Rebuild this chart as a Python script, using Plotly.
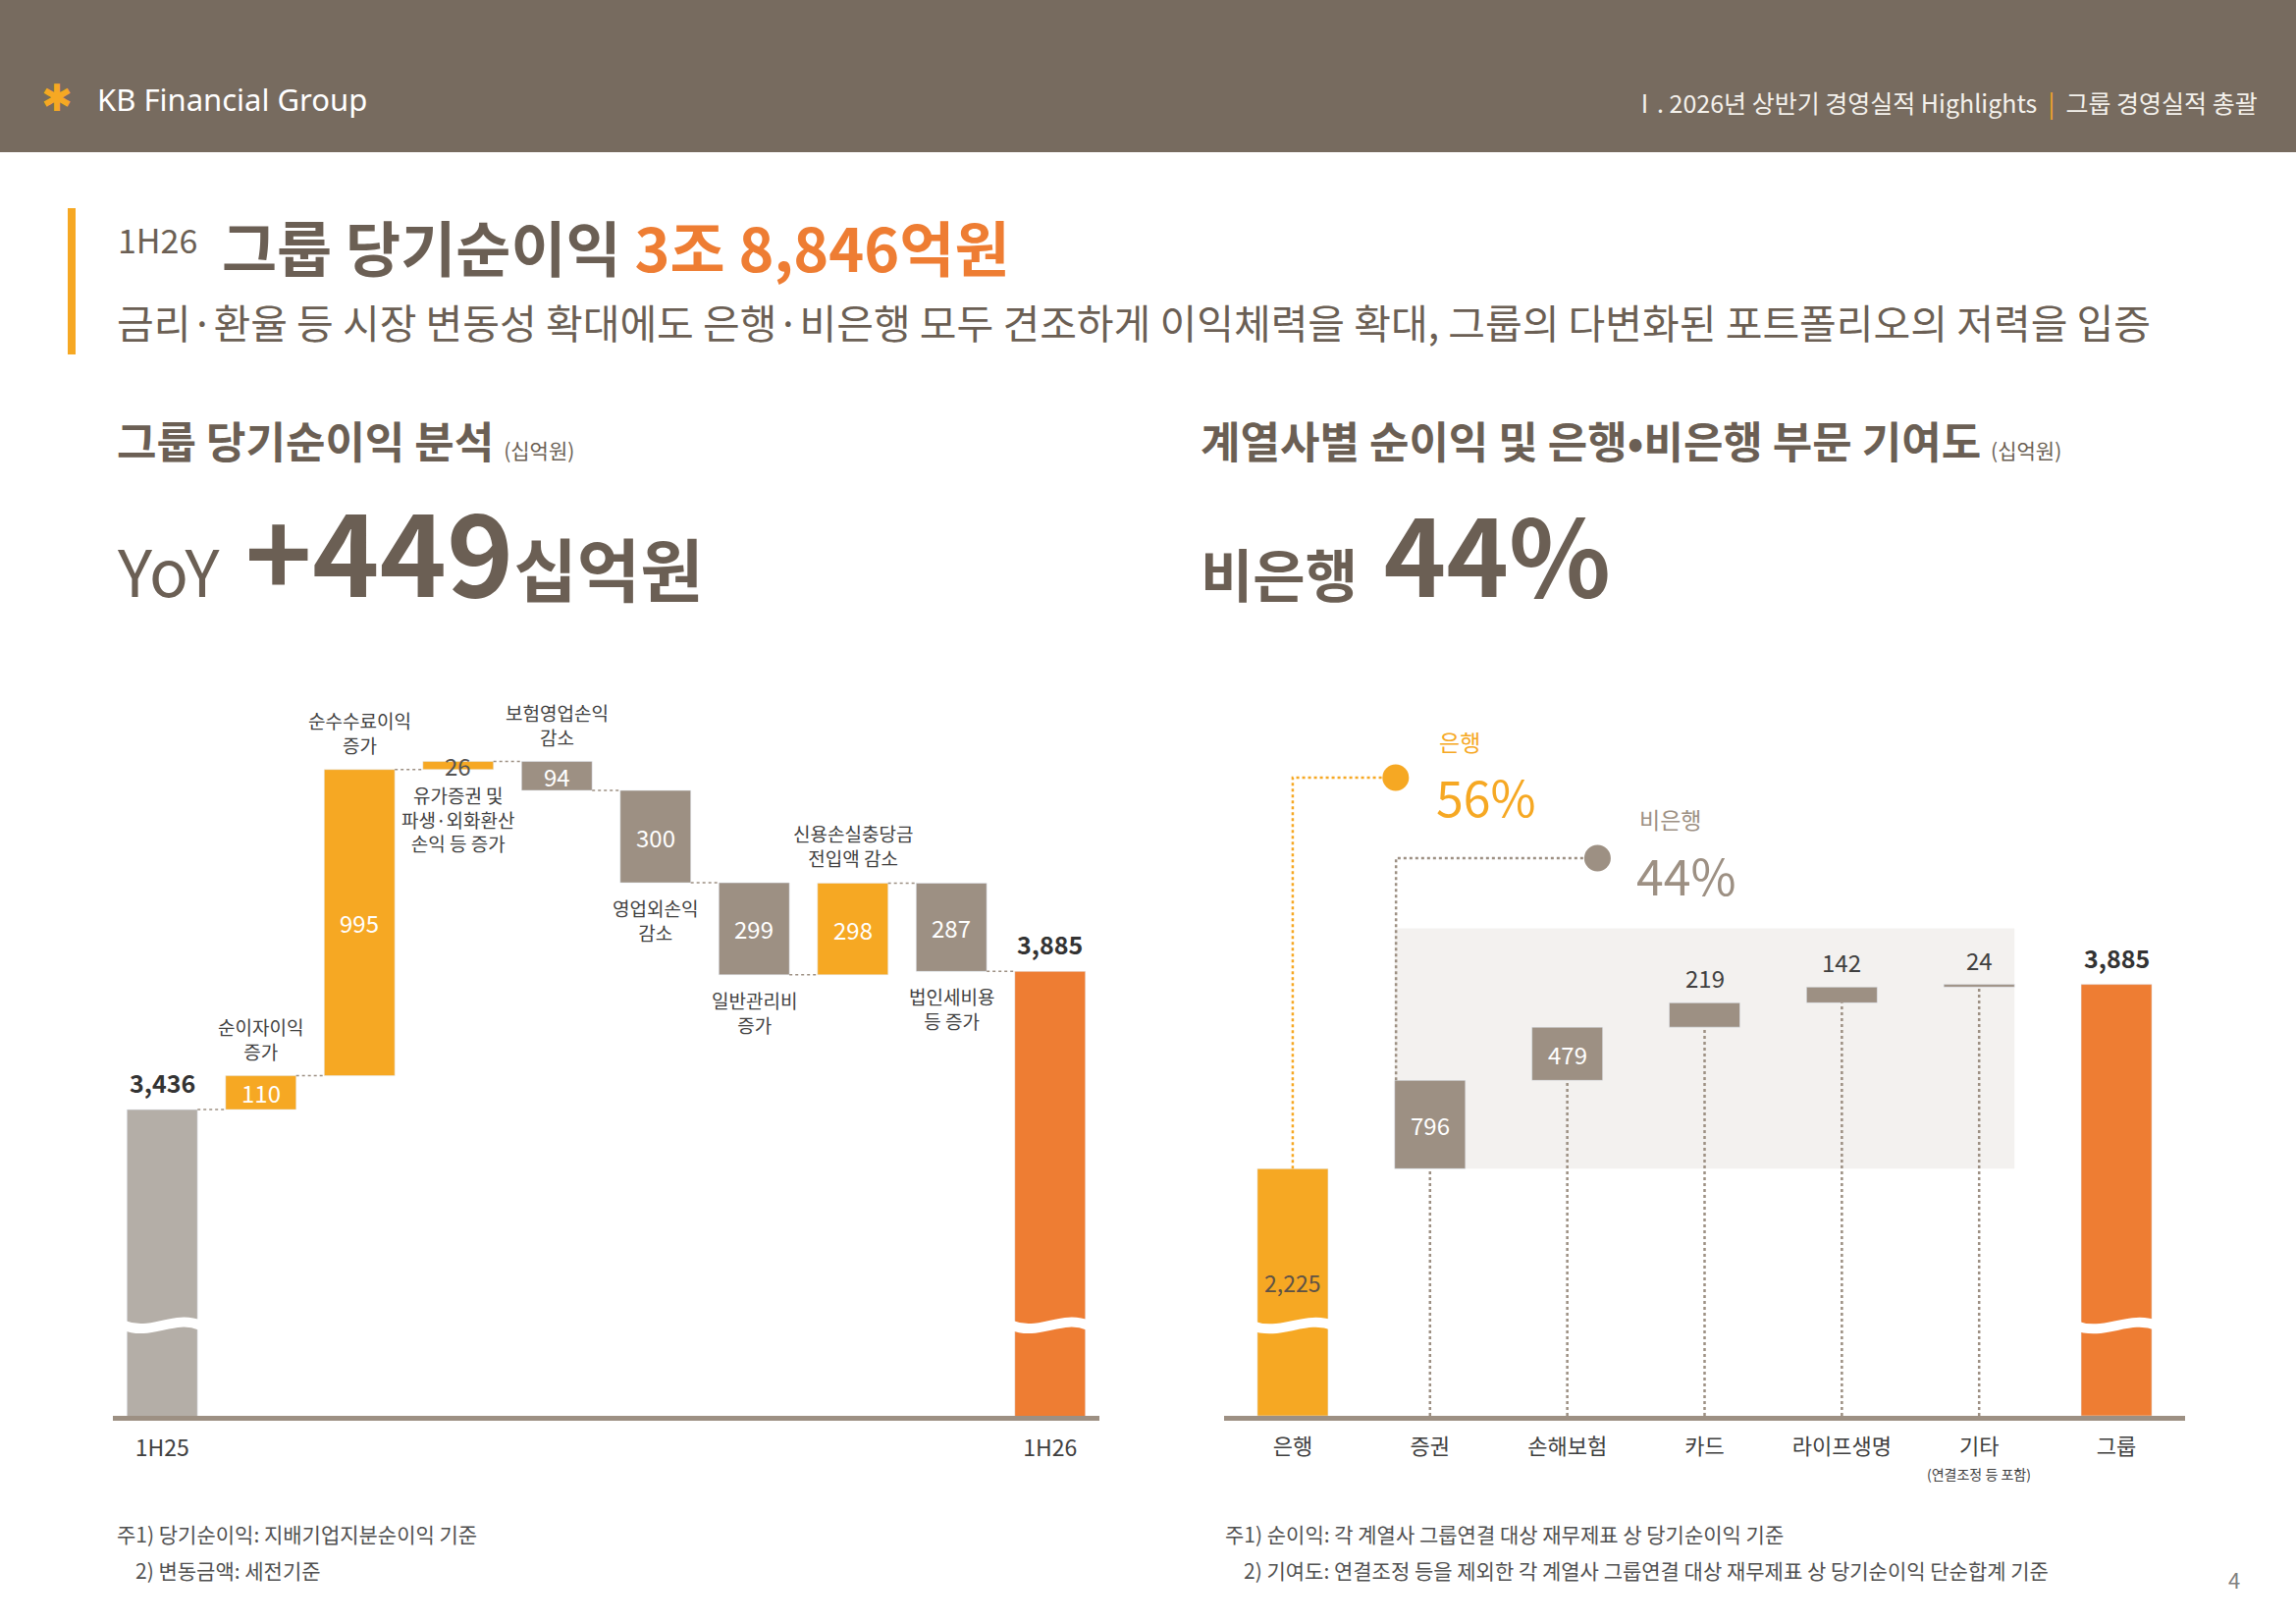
import numpy as np
import plotly.graph_objects as go

W, H = 2339, 1654

# ---- data (십억원) ----
left_start_label = "1H25"
left_end_label = "1H26"
left_start = 3436
left_end = 3885
left_changes = [110, 995, 26, -94, -300, -299, 298, -287]
left_desc = [
    "순이자이익<br>증가",
    "순수수료이익<br>증가",
    "유가증권 및<br>파생·외화환산<br>손익 등 증가",
    "보험영업손익<br>감소",
    "영업외손익<br>감소",
    "일반관리비<br>증가",
    "신용손실충당금<br>전입액 감소",
    "법인세비용<br>등 증가",
]

right_cats = ["은행", "증권", "손해보험", "카드", "라이프생명", "기타", "그룹"]
bank_profit = 2225
nonbank_profit = [796, 479, 219, 142, 24]
group_profit = 3885
bank_share = 56
nonbank_share = 44
yoy_change = 449

# ---- layout / style ----
desc_side = ["above", "above", "below", "above", "below", "below", "above", "below"]

YELLOW = "#F6A823"
ORANGE = "#EE7D33"
TAUPE = "#9D9083"
LIGHT = "#B4AEA7"
TEXT = "#6B5F54"
DARK = "#333333"
HEADER = "#776B5F"
FONT = "Noto Sans CJK KR"

LW = 0.715   # left bar width
RW = 0.515   # right bar width
LEFT_RANGE = [2441, 4757]
RIGHT_RANGE = [0, 6419]
LEFT_BREAK = 2735
RIGHT_BREAK = 813
ORANGE_LVL = 5747
GRAY_LVL = 5022
RECT_TOP = 4390


def px(x):
    return x / W


def py(y):
    return 1 - y / H


fig = go.Figure()

# ---- left waterfall ----
n = len(left_changes)
levels = left_start + np.cumsum(left_changes)
bases = np.concatenate([[left_start], levels[:-1]])
mid_x = np.arange(1, n + 1)

fig.add_trace(go.Bar(x=[0], y=[left_start], base=[0], width=LW,
                     marker_color=LIGHT, xaxis="x", yaxis="y"))
fig.add_trace(go.Bar(x=mid_x, y=left_changes, base=bases, width=LW,
                     marker_color=[YELLOW if v > 0 else TAUPE for v in left_changes],
                     xaxis="x", yaxis="y"))
fig.add_trace(go.Bar(x=[n + 1], y=[left_end], base=[0], width=LW,
                     marker_color=ORANGE, xaxis="x", yaxis="y"))

# connectors
all_levels = [left_start] + list(levels)
cx, cy = [], []
for i, lv in enumerate(all_levels):
    cx += [i + LW / 2, i + 1 - LW / 2, None]
    cy += [lv, lv, None]
fig.add_trace(go.Scatter(x=cx, y=cy, mode="lines", xaxis="x", yaxis="y",
                         line=dict(color=TAUPE, width=1.5, dash="dot")))

# ---- right stacked ----
nb_base = bank_profit + np.concatenate([[0], np.cumsum(nonbank_profit)[:-1]])
nb_x = np.arange(1, len(nonbank_profit) + 1)

fig.add_trace(go.Bar(x=[0], y=[bank_profit], base=[0], width=RW,
                     marker_color=YELLOW, xaxis="x2", yaxis="y2"))
fig.add_trace(go.Bar(x=nb_x, y=nonbank_profit, base=nb_base, width=RW,
                     marker_color=TAUPE, xaxis="x2", yaxis="y2"))
fig.add_trace(go.Bar(x=[len(right_cats) - 1], y=[group_profit], base=[0], width=RW,
                     marker_color=ORANGE, xaxis="x2", yaxis="y2"))

# dotted drops under the non-bank boxes
dx, dy = [], []
for xi, b in zip(nb_x, nb_base):
    dx += [xi, xi, None]
    dy += [0, b, None]
fig.add_trace(go.Scatter(x=dx, y=dy, mode="lines", xaxis="x2", yaxis="y2",
                         line=dict(color=TAUPE, width=2.5, dash="dot")))

# share connectors
edge = 1 - RW / 2 + 0.01
fig.add_trace(go.Scatter(x=[0, 0, 0.75], y=[bank_profit, ORANGE_LVL, ORANGE_LVL],
                         mode="lines", xaxis="x2", yaxis="y2",
                         line=dict(color=YELLOW, width=2.5, dash="dot")))
fig.add_trace(go.Scatter(x=[edge, edge, 2.22],
                         y=[bank_profit + nonbank_profit[0], GRAY_LVL, GRAY_LVL],
                         mode="lines", xaxis="x2", yaxis="y2",
                         line=dict(color=TAUPE, width=2.5, dash="dot")))
fig.add_trace(go.Scatter(x=[0.75], y=[ORANGE_LVL], mode="markers", xaxis="x2", yaxis="y2",
                         marker=dict(size=27, color=YELLOW)))
fig.add_trace(go.Scatter(x=[2.22], y=[GRAY_LVL], mode="markers", xaxis="x2", yaxis="y2",
                         marker=dict(size=27, color=TAUPE)))

shapes = []
# header band
shapes.append(dict(type="rect", xref="paper", yref="paper", x0=0, x1=1,
                   y0=py(155), y1=1, fillcolor=HEADER, line_width=0, layer="below"))
# title accent
shapes.append(dict(type="rect", xref="paper", yref="paper", x0=px(69), x1=px(77),
                   y0=py(361), y1=py(212), fillcolor=YELLOW, line_width=0))
# non-bank shaded area
shapes.append(dict(type="rect", xref="x2", yref="y2", x0=1 - RW / 2, x1=5 + RW / 2,
                   y0=bank_profit, y1=RECT_TOP, fillcolor="#F3F1EF", line_width=0,
                   layer="below"))


def wave(xc, half, yc, amp, xr, yr):
    x0, x1 = xc - half, xc + half
    path = (f"M {x0},{yc} C {xc - half * 0.3},{yc - amp} "
            f"{xc + half * 0.3},{yc + amp} {x1},{yc}")
    return dict(type="path", path=path, xref=xr, yref=yr,
                line=dict(color="white", width=10))


shapes.append(wave(0, LW / 2 + 0.03, LEFT_BREAK, 36, "x", "y"))
shapes.append(wave(n + 1, LW / 2 + 0.03, LEFT_BREAK, 36, "x", "y"))
shapes.append(wave(0, RW / 2 + 0.04, RIGHT_BREAK, 100, "x2", "y2"))
shapes.append(wave(len(right_cats) - 1, RW / 2 + 0.04, RIGHT_BREAK, 100, "x2", "y2"))

ann = []


def note(text, x, y, size, color=TEXT, xanchor="left", yanchor="middle", **kw):
    ann.append(dict(text=text, x=x, y=y, xref=kw.pop("xref", "paper"),
                    yref=kw.pop("yref", "paper"), showarrow=False,
                    xanchor=xanchor, yanchor=yanchor,
                    font=dict(size=size, color=color, family=kw.pop("family", FONT)),
                    **kw))


# header texts
note("✱", px(40), py(100), 38, YELLOW, family="DejaVu Sans")
note("KB Financial Group", px(97), py(101), 31, "white", family="Noto Sans")
note(f"Ⅰ. 2026년 상반기 경영실적 Highlights  <span style='color:{YELLOW}'>|</span>  그룹 경영실적 총괄",
     px(2302), py(104), 25, "#F4F1EC", xanchor="right")

# title
note("1H26", px(118), py(243), 34, TEXT)
note(f"<b>그룹 당기순이익 <span style='color:{ORANGE}'>3조 8,846억원</span></b>",
     px(224), py(250), 61, TEXT)
note("금리·환율 등 시장 변동성 확대에도 은행·비은행 모두 견조하게 이익체력을 확대, "
     "그룹의 다변화된 포트폴리오의 저력을 입증", px(117), py(327), 41, TEXT)

# section headings
note("<b>그룹 당기순이익 분석</b> <span style='font-size:21px'>(십억원)</span>",
     px(117), py(448), 44, TEXT)
note("<b>계열사별 순이익 및 은행•비은행 부문 기여도</b> <span style='font-size:21px'>(십억원)</span>",
     px(1221), py(448), 44, TEXT)
note(f"<span style='font-size:66px'>YoY</span> <b>+{yoy_change}</b>"
     f"<b><span style='font-size:70px'>십억원</span></b>",
     px(117), py(557), 116, TEXT)
note(f"<b><span style='font-size:58px'>비은행</span> <span style='font-size:108px'>{nonbank_share}%</span></b>",
     px(1221), py(557), 116, TEXT)

# left labels
note(f"<b>{left_start:,}</b>", 0, left_start, 25, DARK, xanchor="center",
     yanchor="bottom", xref="x", yref="y", yshift=8)
note(f"<b>{left_end:,}</b>", n + 1, left_end, 25, DARK, xanchor="center",
     yanchor="bottom", xref="x", yref="y", yshift=8)
for xi, b, v, d, side in zip(mid_x, bases, left_changes, left_desc, desc_side):
    top, bot = max(b, b + v), min(b, b + v)
    tc = "white" if abs(v) >= 50 else "#555555"
    note(f"{abs(v)}", xi, b + v / 2, 24, tc, xanchor="center", xref="x", yref="y")
    if side == "above":
        note(d, xi, top, 19, "#404040", xanchor="center", yanchor="bottom",
             xref="x", yref="y", yshift=10)
    else:
        note(d, xi, bot, 19, "#404040", xanchor="center", yanchor="top",
             xref="x", yref="y", yshift=-10)

# right labels
note(f"{bank_profit:,}", 0, bank_profit, 23, "#5E5246", xanchor="center",
     xref="x2", yref="y2", yshift=-116)
for xi, b, v in zip(nb_x, nb_base, nonbank_profit):
    if v >= 300:
        note(f"{v}", xi, b + v / 2, 24, "white", xanchor="center", xref="x2", yref="y2")
    else:
        note(f"{v}", xi, b + v, 24, "#404040", xanchor="center", yanchor="bottom",
             xref="x2", yref="y2", yshift=6)
note(f"<b>{group_profit:,}</b>", len(right_cats) - 1, group_profit, 25, DARK,
     xanchor="center", yanchor="bottom", xref="x2", yref="y2", yshift=8)
note("(연결조정 등 포함)", 5, py(1501), 14, "#404040", xanchor="center", xref="x2")

note("은행", 1.05, 6012, 23, YELLOW, yanchor="bottom", xref="x2", yref="y2", yshift=-12)
note(f"{bank_share}%", 1.03, 5614, 50, YELLOW, yanchor="middle", xref="x2", yref="y2", yshift=-3)
note("비은행", 2.51, 5296, 23, TAUPE, yanchor="bottom", xref="x2", yref="y2", yshift=-10)
note(f"{nonbank_share}%", 2.49, 4903, 50, TAUPE, yanchor="middle", xref="x2", yref="y2", yshift=-3)

# footnotes
note("주1) 당기순이익: 지배기업지분순이익 기준", px(117), py(1562), 21, "#505050")
note("2) 변동금액: 세전기준", px(136), py(1599), 21, "#505050")
note("주1) 순이익: 각 계열사 그룹연결 대상 재무제표 상 당기순이익 기준", px(1246), py(1562), 21, "#505050")
note("2) 기여도: 연결조정 등을 제외한 각 계열사 그룹연결 대상 재무제표 상 당기순이익 단순합계 기준",
     px(1265), py(1599), 21, "#505050")
note("4", px(2276), py(1608), 22, "#808080", xanchor="center")

axis_common = dict(showgrid=False, zeroline=False, showline=True, linecolor=TAUPE,
                   linewidth=5, ticks="", ticklabelstandoff=8, fixedrange=True)

fig.update_layout(
    width=W, height=H,
    margin=dict(l=0, r=0, t=0, b=0),
    paper_bgcolor="white", plot_bgcolor="white",
    showlegend=False, barmode="overlay",
    font=dict(family=FONT, color=TEXT),
    xaxis=dict(domain=[px(115), px(1120)], range=[-0.5, n + 1.5],
               tickvals=[0, n + 1], ticktext=[left_start_label, left_end_label],
               tickfont=dict(size=23, color="#404040"), anchor="y", **axis_common),
    yaxis=dict(domain=[py(1442), py(716)], range=LEFT_RANGE, visible=False, anchor="x"),
    xaxis2=dict(domain=[px(1247), px(2226)], range=[-0.5, len(right_cats) - 0.5],
                tickvals=list(range(len(right_cats))), ticktext=right_cats,
                tickfont=dict(size=22, color="#404040"), anchor="y2", **axis_common),
    yaxis2=dict(domain=[py(1442), py(716)], range=RIGHT_RANGE, visible=False, anchor="x2"),
    shapes=shapes,
    annotations=ann,
)

fig.write_html("out.html", config={"displayModeBar": False},
               post_script="document.body.style.margin='0';document.body.style.overflow='hidden';")
